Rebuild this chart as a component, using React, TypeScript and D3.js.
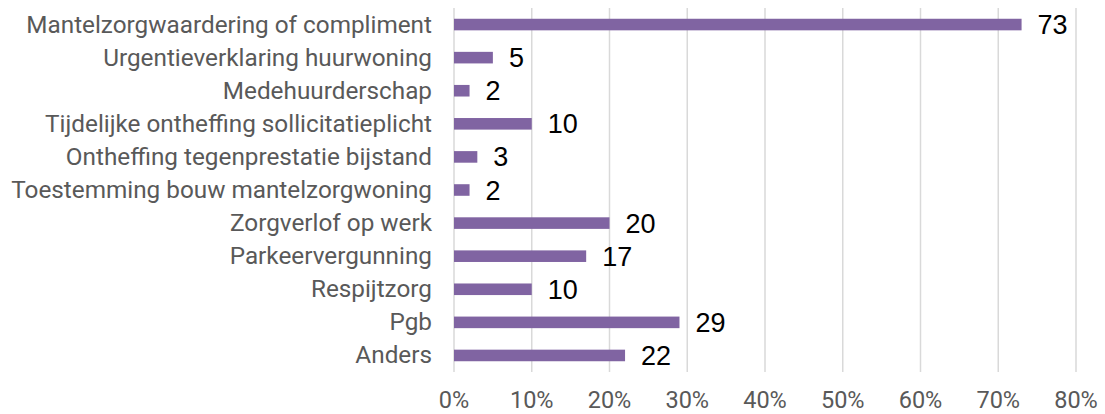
import { useEffect, useRef } from "react";
import * as d3 from "d3";

const categories = [
  "Mantelzorgwaardering of compliment",
  "Urgentieverklaring huurwoning",
  "Medehuurderschap",
  "Tijdelijke ontheffing sollicitatieplicht",
  "Ontheffing tegenprestatie bijstand",
  "Toestemming bouw mantelzorgwoning",
  "Zorgverlof op werk",
  "Parkeervergunning",
  "Respijtzorg",
  "Pgb",
  "Anders",
];
const values = [73, 5, 2, 10, 3, 2, 20, 17, 10, 29, 22];
const xTicks = [0, 10, 20, 30, 40, 50, 60, 70, 80];

const W = 1105;
const H = 414;
const margin = { top: 8, right: 29, bottom: 42, left: 454 };

export default function App() {
  const svgRef = useRef<SVGSVGElement>(null);

  useEffect(() => {
    if (!svgRef.current) return;
    const svg = d3.select(svgRef.current);
    svg.selectAll("*").remove();

    const x = d3.scaleLinear().domain([0, 80]).range([margin.left, W - margin.right]);
    const y = d3
      .scaleBand<string>()
      .domain(categories)
      .range([margin.top, H - margin.bottom])
      .paddingInner(0.65)
      .paddingOuter(0.325);

    // gridlines
    svg.append("g")
      .selectAll("line")
      .data(xTicks)
      .join("line")
      .attr("x1", (d) => x(d))
      .attr("x2", (d) => x(d))
      .attr("y1", margin.top)
      .attr("y2", H - margin.bottom)
      .attr("stroke", "#d9d9d9")
      .attr("stroke-width", 1.5);

    // bars
    svg.append("g")
      .selectAll("rect")
      .data(values)
      .join("rect")
      .attr("x", x(0))
      .attr("y", (_, i) => y(categories[i])!)
      .attr("width", (d) => x(d) - x(0))
      .attr("height", y.bandwidth())
      .attr("fill", "#8064a2");

    // value labels
    svg.append("g")
      .selectAll("text")
      .data(values)
      .join("text")
      .attr("x", (d) => x(d) + 16)
      .attr("y", (_, i) => y(categories[i])! + y.bandwidth() / 2 + 9.5)
      .attr("font-family", "Arial, 'Liberation Sans', sans-serif")
      .attr("font-size", 27)
      .attr("fill", "#000")
      .text((d) => d);

    // category labels
    svg.append("g")
      .selectAll("text")
      .data(categories)
      .join("text")
      .attr("x", margin.left - 22)
      .attr("y", (d) => y(d)! + y.bandwidth() / 2 + 8)
      .attr("text-anchor", "end")
      .attr("font-family", "Roboto, sans-serif")
      .attr("font-size", 24.3)
      .attr("fill", "#595959")
      .text((d) => d);

    // x tick labels
    svg.append("g")
      .selectAll("text")
      .data(xTicks)
      .join("text")
      .attr("x", (d) => x(d))
      .attr("y", 407.5)
      .attr("text-anchor", "middle")
      .attr("font-family", "Roboto, sans-serif")
      .attr("font-size", 23.5)
      .attr("fill", "#595959")
      .text((d) => `${d}%`);
  }, []);

  return (
    <svg
      ref={svgRef}
      width={W}
      height={H}
      style={{ position: "absolute", left: 0, top: 0, background: "#fff" }}
    />
  );
}
